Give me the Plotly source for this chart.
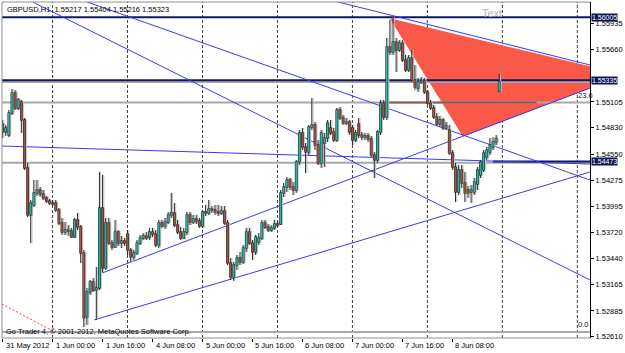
import plotly.graph_objects as go

# ---------------- data (GBPUSD H1, bar index 0 = 1 Jun 2012 00:00) ----------------
bar_index = list(range(-16, 144))

opens = [
    1.54871, 1.54786, 1.54754, 1.54988, 1.55200, 1.55041, 1.55105, 1.54914, 1.54404, 1.53905, 1.54011, 1.54139, 1.54170, 1.54128, 1.54085, 1.54053,
    1.54032, 1.54032, 1.53958, 1.53820, 1.53724, 1.53745, 1.53735, 1.53671, 1.53852, 1.53777, 1.53501, 1.52821, 1.53087, 1.53193, 1.53108, 1.53130,
    1.53979, 1.53342, 1.53820, 1.53607, 1.53565, 1.53724, 1.53607, 1.53628, 1.53703, 1.53533, 1.53459, 1.53501, 1.53607, 1.53660, 1.53682, 1.53671,
    1.53724, 1.53703, 1.53586, 1.53820, 1.53788, 1.53830, 1.53905, 1.53926, 1.53798, 1.53724, 1.53660, 1.53724, 1.53905, 1.53830, 1.53862, 1.53841,
    1.53788, 1.53937, 1.53926, 1.53968, 1.53958, 1.53937, 1.53926, 1.53947, 1.53820, 1.53395, 1.53246, 1.53374, 1.53448, 1.53406, 1.53554, 1.53724,
    1.53607, 1.53512, 1.53618, 1.53660, 1.53820, 1.53777, 1.53745, 1.53767, 1.53809, 1.53809, 1.54139, 1.54202, 1.54276, 1.54202, 1.54170, 1.54468,
    1.54776, 1.54627, 1.54574, 1.54839, 1.54861, 1.54648, 1.54457, 1.54669, 1.54722, 1.54829, 1.54786, 1.54701, 1.55020, 1.54935, 1.54882, 1.54892,
    1.54829, 1.54701, 1.54871, 1.54754, 1.54733, 1.54744, 1.54712, 1.54542, 1.54489, 1.54786, 1.55094, 1.54945, 1.55689, 1.55636, 1.55742, 1.55657,
    1.55731, 1.55551, 1.55445, 1.55572, 1.55338, 1.55253, 1.55317, 1.55328, 1.55211, 1.55094, 1.55041, 1.54945, 1.54871, 1.54914, 1.54829, 1.54807,
    1.54563, 1.54414, 1.54149, 1.54383, 1.54245, 1.54170, 1.54149, 1.54149, 1.54234, 1.54330, 1.54383, 1.54521, 1.54574, 1.54627, 1.54680, 1.55217,
]
highs = [
    1.54914, 1.54861, 1.55020, 1.55243, 1.55232, 1.55147, 1.55126, 1.54935, 1.54457, 1.54064, 1.54276, 1.54276, 1.54202, 1.54170, 1.54107, 1.54075,
    1.54064, 1.54064, 1.53979, 1.53873, 1.53830, 1.53798, 1.53767, 1.53873, 1.53926, 1.53798, 1.53533, 1.53130, 1.53214, 1.53236, 1.53352, 1.54361,
    1.54330, 1.53873, 1.53873, 1.53639, 1.53852, 1.53745, 1.53682, 1.53660, 1.53745, 1.53554, 1.53533, 1.53639, 1.53692, 1.53713, 1.53724, 1.53767,
    1.53767, 1.53745, 1.53852, 1.53852, 1.53873, 1.53937, 1.54139, 1.54032, 1.53852, 1.53777, 1.53767, 1.53937, 1.53937, 1.53905, 1.53905, 1.53873,
    1.53958, 1.54011, 1.54064, 1.54000, 1.54011, 1.54011, 1.54000, 1.54000, 1.53852, 1.53448, 1.53406, 1.53480, 1.53512, 1.53586, 1.53767, 1.53767,
    1.53639, 1.53692, 1.53713, 1.53852, 1.53852, 1.53809, 1.53798, 1.53852, 1.53841, 1.54170, 1.54245, 1.54308, 1.54298, 1.54255, 1.54489, 1.54807,
    1.54829, 1.54669, 1.54861, 1.55147, 1.54892, 1.54701, 1.54807, 1.54776, 1.54914, 1.54914, 1.54829, 1.55041, 1.55052, 1.54967, 1.54935, 1.54914,
    1.54861, 1.54807, 1.54935, 1.54786, 1.54776, 1.54776, 1.54744, 1.54574, 1.54807, 1.55126, 1.55126, 1.55784, 1.55976, 1.56005, 1.55784, 1.55763,
    1.55763, 1.55604, 1.55604, 1.55657, 1.55498, 1.55360, 1.55370, 1.55360, 1.55232, 1.55126, 1.55073, 1.54988, 1.54956, 1.54935, 1.54892, 1.54861,
    1.54595, 1.54457, 1.54435, 1.54435, 1.54361, 1.54213, 1.54223, 1.54298, 1.54414, 1.54489, 1.54595, 1.54627, 1.54722, 1.54733, 1.54754, 1.55404,
]
lows = [
    1.54722, 1.54744, 1.54733, 1.54967, 1.55020, 1.55020, 1.54776, 1.54383, 1.53883, 1.53607, 1.53990, 1.54107, 1.54096, 1.54064, 1.54032, 1.54011,
    1.54000, 1.53937, 1.53798, 1.53692, 1.53692, 1.53682, 1.53660, 1.53660, 1.53745, 1.53395, 1.52715, 1.52737, 1.53055, 1.53087, 1.52790, 1.53108,
    1.53299, 1.53321, 1.53586, 1.53533, 1.53554, 1.53575, 1.53554, 1.53575, 1.53480, 1.53406, 1.53427, 1.53480, 1.53586, 1.53639, 1.53639, 1.53639,
    1.53671, 1.53565, 1.53554, 1.53767, 1.53756, 1.53809, 1.53873, 1.53777, 1.53703, 1.53639, 1.53650, 1.53692, 1.53798, 1.53809, 1.53809, 1.53767,
    1.53767, 1.53894, 1.53905, 1.53926, 1.53905, 1.53894, 1.53905, 1.53798, 1.53374, 1.53214, 1.53204, 1.53321, 1.53374, 1.53384, 1.53512, 1.53586,
    1.53427, 1.53480, 1.53586, 1.53639, 1.53756, 1.53724, 1.53724, 1.53745, 1.53777, 1.53798, 1.54096, 1.54149, 1.54170, 1.54117, 1.54139, 1.54435,
    1.54595, 1.54351, 1.54542, 1.54807, 1.54595, 1.54435, 1.54404, 1.54414, 1.54680, 1.54754, 1.54680, 1.54680, 1.54914, 1.54861, 1.54861, 1.54754,
    1.54648, 1.54680, 1.54722, 1.54701, 1.54701, 1.54680, 1.54521, 1.54298, 1.54457, 1.54754, 1.54914, 1.54914, 1.55604, 1.55604, 1.55423, 1.55636,
    1.55530, 1.55423, 1.55423, 1.55317, 1.55232, 1.55211, 1.55296, 1.55190, 1.55073, 1.55020, 1.54924, 1.54850, 1.54839, 1.54807, 1.54807, 1.54542,
    1.54383, 1.54043, 1.54117, 1.54192, 1.54043, 1.54085, 1.54032, 1.54117, 1.54170, 1.54298, 1.54361, 1.54489, 1.54542, 1.54595, 1.54648, 1.55216,
]
closes = [
    1.54786, 1.54829, 1.54988, 1.55200, 1.55041, 1.55126, 1.54914, 1.54404, 1.53905, 1.54032, 1.54139, 1.54170, 1.54128, 1.54085, 1.54053, 1.54032,
    1.54022, 1.53958, 1.53820, 1.53724, 1.53745, 1.53735, 1.53671, 1.53852, 1.53777, 1.53501, 1.52811, 1.53087, 1.53193, 1.53108, 1.53130, 1.53979,
    1.53342, 1.53820, 1.53607, 1.53565, 1.53724, 1.53607, 1.53628, 1.53607, 1.53533, 1.53459, 1.53501, 1.53607, 1.53660, 1.53682, 1.53660, 1.53724,
    1.53703, 1.53586, 1.53820, 1.53788, 1.53830, 1.53905, 1.53926, 1.53798, 1.53724, 1.53660, 1.53724, 1.53905, 1.53830, 1.53862, 1.53841, 1.53788,
    1.53937, 1.53926, 1.53968, 1.53958, 1.53937, 1.53926, 1.53947, 1.53820, 1.53395, 1.53246, 1.53374, 1.53448, 1.53406, 1.53554, 1.53724, 1.53607,
    1.53512, 1.53671, 1.53660, 1.53820, 1.53777, 1.53745, 1.53767, 1.53809, 1.53798, 1.54139, 1.54202, 1.54276, 1.54202, 1.54170, 1.54468, 1.54776,
    1.54627, 1.54574, 1.54839, 1.54861, 1.54648, 1.54457, 1.54776, 1.54722, 1.54882, 1.54776, 1.54701, 1.55020, 1.54935, 1.54882, 1.54892, 1.54786,
    1.54701, 1.54776, 1.54754, 1.54733, 1.54744, 1.54712, 1.54542, 1.54489, 1.54786, 1.55094, 1.54945, 1.55689, 1.55636, 1.55742, 1.55657, 1.55731,
    1.55551, 1.55445, 1.55572, 1.55338, 1.55264, 1.55317, 1.55328, 1.55211, 1.55094, 1.55041, 1.54945, 1.54871, 1.54914, 1.54829, 1.54850, 1.54563,
    1.54414, 1.54149, 1.54383, 1.54245, 1.54139, 1.54139, 1.54170, 1.54255, 1.54383, 1.54468, 1.54563, 1.54595, 1.54648, 1.54680, 1.54712, 1.55323,
]

# time-axis labels (bar index, text)
time_tick_bars = [-16, 0, 16, 32, 48, 64, 80, 96, 112, 128]
time_tick_labels = ["31 May 2012", "1 Jun 00:00", "1 Jun 16:00", "4 Jun 08:00", "5 Jun 00:00",
                    "5 Jun 16:00", "6 Jun 08:00", "7 Jun 00:00", "7 Jun 16:00", "8 Jun 08:00"]
day_start_bars = [0, 24, 48, 72, 96, 120, 144, 168]

price_ticks = [1.55935, 1.55660, 1.55105, 1.54830, 1.54550, 1.54275,
               1.53995, 1.53720, 1.53440, 1.53165, 1.52885, 1.52610]

# chart objects: trend lines as (bar, price) anchor pairs
trend_lines = {
    "A": ([-6.35, 172.06], [1.56167, 1.53214]),
    "B": ([11.11, 172.06], [1.56167, 1.54276]),
    "C": ([88.89, 172.06], [1.56188, 1.55498]),
    "D": ([-16.19, 172.06], [1.54637, 1.54446]),
    "E": ([15.87, 172.06], [1.53289, 1.55253]),
    "F": ([13.33, 172.06], [1.52790, 1.54361]),
}
fib_anchor_line = ([-16.19, 0.63], [1.52960, 1.52662])
triangle_bars = [108.25, 131.43, 182.86]
triangle_prices = [1.55986, 1.54744, 1.55392]

navy_levels = [1.56005, 1.55335]
last_level = (141.0, 1.54473)          # navy ray starting near the last bars
gray_levels = [1.55317, 1.54460]
fib_levels = {"0.0": 1.52662, "23.6": 1.55099}
fib_dark_span = [105.0, 155.0]
text_obj = (137.0, 1.56050, "Text")

X_RANGE = [-16.19, 172.06]
Y_RANGE = [1.52598, 1.56167]
FONT = "Liberation Sans"
BULL = "#22B8A8"
BEAR = "#A8523E"
PX_PRICE = (Y_RANGE[1] - Y_RANGE[0]) / 336.0   # price per screen pixel (for outline padding)

fig = go.Figure()


def seg_trace(xs0, y0s, y1s, color, width, dx=0.0):
    xs, ys = [], []
    for x, a, b in zip(xs0, y0s, y1s):
        xs += [x + dx, x + dx, None]
        ys += [a, b, None]
    return go.Scatter(x=xs, y=ys, mode="lines", line=dict(color=color, width=width),
                      hoverinfo="skip", connectgaps=False)


# triangle (behind everything)
fig.add_trace(go.Scatter(
    x=triangle_bars + [triangle_bars[0]], y=triangle_prices + [triangle_prices[0]],
    mode="lines", fill="toself", fillcolor="rgb(250,88,72)",
    line=dict(color="rgb(250,88,72)", width=1), hoverinfo="skip"))

# horizontal levels
for lvl in gray_levels:
    fig.add_trace(go.Scatter(x=X_RANGE, y=[lvl, lvl], mode="lines",
                             line=dict(color="#A8A8A8", width=2), hoverinfo="skip"))
for name, lvl in fib_levels.items():
    fig.add_trace(go.Scatter(x=X_RANGE, y=[lvl, lvl], mode="lines",
                             line=dict(color="#A8A8A8", width=2), hoverinfo="skip"))
fig.add_trace(go.Scatter(x=fib_dark_span, y=[fib_levels["23.6"]] * 2, mode="lines",
                         line=dict(color="#806058", width=2), hoverinfo="skip"))
for lvl in navy_levels:
    fig.add_trace(go.Scatter(x=X_RANGE, y=[lvl, lvl], mode="lines",
                             line=dict(color="#101860", width=2), hoverinfo="skip"))
fig.add_trace(go.Scatter(x=[last_level[0], X_RANGE[1]], y=[last_level[1]] * 2, mode="lines",
                         line=dict(color="#101860", width=2), hoverinfo="skip"))

# trend lines
for name, (xs, ys) in trend_lines.items():
    fig.add_trace(go.Scatter(x=xs, y=ys, mode="lines",
                             line=dict(color="#3A3AF0", width=1), hoverinfo="skip"))
fig.add_trace(go.Scatter(x=fib_anchor_line[0], y=fib_anchor_line[1], mode="lines",
                         line=dict(color="#F04030", width=1, dash="2px,2px"), hoverinfo="skip"))

# candles built from OHLC arrays
pad = 0.6 * PX_PRICE
body_lo = [min(o, c) - pad for o, c in zip(opens, closes)]
body_hi = [max(o, c) + pad for o, c in zip(opens, closes)]
fill_lo = [min(o, c) for o, c in zip(opens, closes)]
fill_hi = [max(o, c) for o, c in zip(opens, closes)]
bull = [c >= o for o, c in zip(opens, closes)]


def pick(seq, mask):
    return [v for v, m in zip(seq, mask) if m]


notbull = [not b for b in bull]
# gray shadow to the right
fig.add_trace(seg_trace(bar_index, lows, highs, "#C0C0C0", 1, dx=0.42))
fig.add_trace(seg_trace(bar_index, body_lo, body_hi, "#C4C4C4", 2.4, dx=0.42))
# wicks
fig.add_trace(seg_trace(bar_index, lows, highs, "#2A2A2A", 1))
# body outlines
fig.add_trace(seg_trace(bar_index, body_lo, body_hi, "#2A2A2A", 2.8))
# body fills
fig.add_trace(seg_trace(pick(bar_index, bull), pick(fill_lo, bull), pick(fill_hi, bull), BULL, 1.6))
fig.add_trace(seg_trace(pick(bar_index, notbull), pick(fill_lo, notbull), pick(fill_hi, notbull), BEAR, 1.6))

# vertical day separators
for d in day_start_bars:
    fig.add_shape(type="line", x0=d, x1=d, y0=0, y1=1, xref="x", yref="paper",
                  line=dict(color="#404040", width=1, dash="3px,2px"), layer="below")

# frame
fig.add_shape(type="line", x0=0, x1=0, y0=0, y1=1, xref="paper", yref="paper",
              line=dict(color="#909090", width=1))
fig.add_shape(type="line", x0=0, x1=1, y0=1, y1=1, xref="paper", yref="paper",
              line=dict(color="#909090", width=1))
fig.add_shape(type="line", x0=0, x1=1, y0=0, y1=0, xref="paper", yref="paper",
              line=dict(color="#909090", width=1))

ann = []
for b, t in zip(time_tick_bars, time_tick_labels):
    ann.append(dict(x=b, y=0, xref="x", yref="paper", text=t, showarrow=False,
                    xanchor="left", yanchor="top", yshift=-1, xshift=1,
                    font=dict(family=FONT, size=7.5, color="#000000")))
for lvl in navy_levels + [last_level[1]]:
    ann.append(dict(x=1, y=lvl, xref="paper", yref="y", text=f"{lvl:.5f}", showarrow=False,
                    xanchor="left", yanchor="middle", xshift=1, bgcolor="#0C1650",
                    borderpad=0, font=dict(family=FONT, size=7, color="#FFFFFF")))
for name, lvl in fib_levels.items():
    ann.append(dict(x=167.5, y=lvl, xref="x", yref="y", text=name, showarrow=False,
                    xanchor="left", yanchor="bottom", yshift=1,
                    font=dict(family=FONT, size=7.5, color="#202020")))
ann.append(dict(x=text_obj[0], y=text_obj[1], xref="x", yref="y", text=text_obj[2],
                showarrow=False, xanchor="left", yanchor="middle",
                font=dict(family=FONT, size=11, color="#B8B8B8")))
ann.append(dict(x=0, y=1, xref="paper", yref="paper",
                text="GBPUSD,H1  1.55217 1.55404 1.55216 1.55323", showarrow=False,
                xanchor="left", yanchor="top", xshift=3, yshift=-1,
                font=dict(family=FONT, size=7.5, color="#000000")))
ann.append(dict(x=0, y=0, xref="paper", yref="paper",
                text="Go Trader 4, © 2001-2012, MetaQuotes Software Corp.", showarrow=False,
                xanchor="left", yanchor="bottom", xshift=2, yshift=0,
                font=dict(family=FONT, size=7.5, color="#000000")))

fig.update_layout(
    width=625, height=353, margin=dict(l=2, r=30, t=2, b=15),
    paper_bgcolor="#FFFFFF", plot_bgcolor="#FFFFFF", showlegend=False,
    annotations=ann,
    xaxis=dict(range=X_RANGE, showgrid=False, zeroline=False,
               tickmode="array", tickvals=time_tick_bars, showticklabels=False,
               ticks="outside", ticklen=3, tickcolor="#000000", showline=False, fixedrange=True),
    yaxis=dict(range=Y_RANGE, side="right", showgrid=False, zeroline=False,
               tickmode="array", tickvals=price_ticks, ticktext=[f"{v:.5f}" for v in price_ticks],
               ticks="outside", ticklen=3, tickcolor="#000000",
               tickfont=dict(family=FONT, size=7.5, color="#000000"),
               showline=True, linecolor="#000000", linewidth=1, fixedrange=True),
)

fig.write_html("out.html")
